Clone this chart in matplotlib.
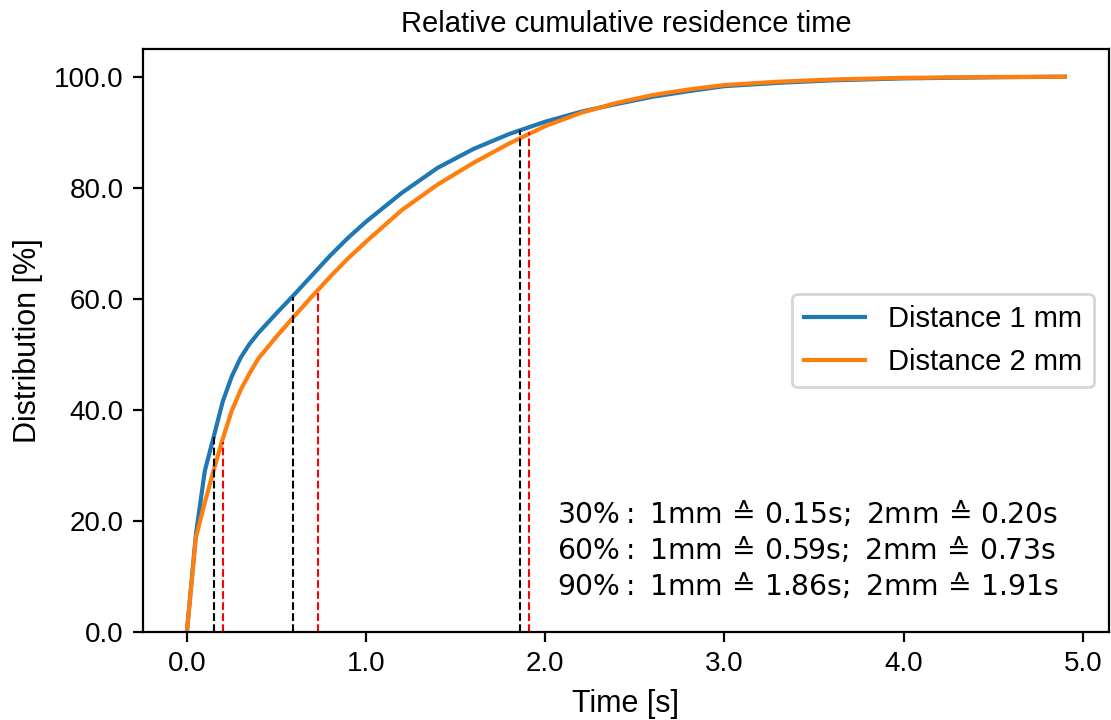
import numpy as np
import matplotlib
matplotlib.use('Agg')
import matplotlib.pyplot as plt
from matplotlib.ticker import FormatStrFormatter

plt.rcParams['font.family'] = ['Liberation Sans', 'DejaVu Sans']
plt.rcParams['font.size'] = 10
plt.rcParams['mathtext.fontset'] = 'dejavusans'
plt.rcParams['mathtext.default'] = 'rm'

# residence time [s] and cumulative distribution [%]
time = [0.0, 0.05, 0.10, 0.15, 0.20, 0.25, 0.30, 0.35, 0.40, 0.50, 0.60, 0.70, 0.80,
        0.90, 1.00, 1.20, 1.40, 1.60, 1.80, 2.00, 2.20, 2.40, 2.60, 2.80, 3.00,
        3.30, 3.60, 4.00, 4.50, 4.90]
dist_1mm = [0.0, 17.5, 29.0, 35.2, 41.5, 46.0, 49.4, 51.9, 53.9, 57.4, 60.8, 64.3, 67.8,
            71.0, 73.9, 79.1, 83.6, 87.0, 89.7, 91.9, 93.7, 95.1, 96.4, 97.4, 98.3,
            98.9, 99.35, 99.7, 99.9, 100.0]
dist_2mm = [0.0, 17.0, 23.3, 29.2, 34.8, 39.8, 43.6, 46.6, 49.3, 53.2, 56.9, 60.5, 64.0,
            67.3, 70.3, 76.0, 80.6, 84.5, 88.0, 91.1, 93.5, 95.3, 96.7, 97.7, 98.5,
            99.1, 99.5, 99.8, 99.95, 100.0]

labels = ['Distance 1 mm', 'Distance 2 mm']

# marked times for 30 / 60 / 90 %
t_1mm = [0.15, 0.59, 1.86]
t_2mm = [0.20, 0.73, 1.91]
top_1mm = [35.2, 60.4, 90.4]
top_2mm = [34.3, 61.6, 90.1]
percents = ['30', '60', '90']

fig = plt.figure(figsize=(1111 / 200, 720 / 200), dpi=200)
ax = fig.add_axes([0.1287, 0.1222, 0.998 - 0.1287, 0.932 - 0.1222])

ax.plot(time, dist_1mm, color='#1f77b4', lw=1.5, label=labels[0])
ax.plot(time, dist_2mm, color='#ff7f0e', lw=1.5, label=labels[1])

ax.vlines(t_1mm, 0, top_1mm, colors='black', linestyles='dashed', lw=0.75)
ax.vlines(t_2mm, 0, top_2mm, colors='red', linestyles='dashed', lw=0.75)

lines = []
for p, a, b in zip(percents, t_1mm, t_2mm):
    lines.append(r'$%s\%%:\ 1mm\ ≙\ %.2fs;\ 2mm\ ≙\ %.2fs$' % (p, a, b))
ax.text(2.065, 5.5, '\n'.join(lines), ha='left', va='bottom', fontsize=10.2)

ax.set_xlim(-0.245, 5.145)
ax.set_ylim(0, 105)
ax.xaxis.set_major_formatter(FormatStrFormatter('%.1f'))
ax.yaxis.set_major_formatter(FormatStrFormatter('%.1f'))
ax.set_xlabel('Time [s]', fontsize=11)
ax.set_ylabel('Distribution [%]', fontsize=11)
ax.set_title('Relative cumulative residence time', fontsize=10.5)
ax.legend(loc='center right', handlelength=2.1, fontsize=10.5)

fig.savefig('out.png', dpi=200)
